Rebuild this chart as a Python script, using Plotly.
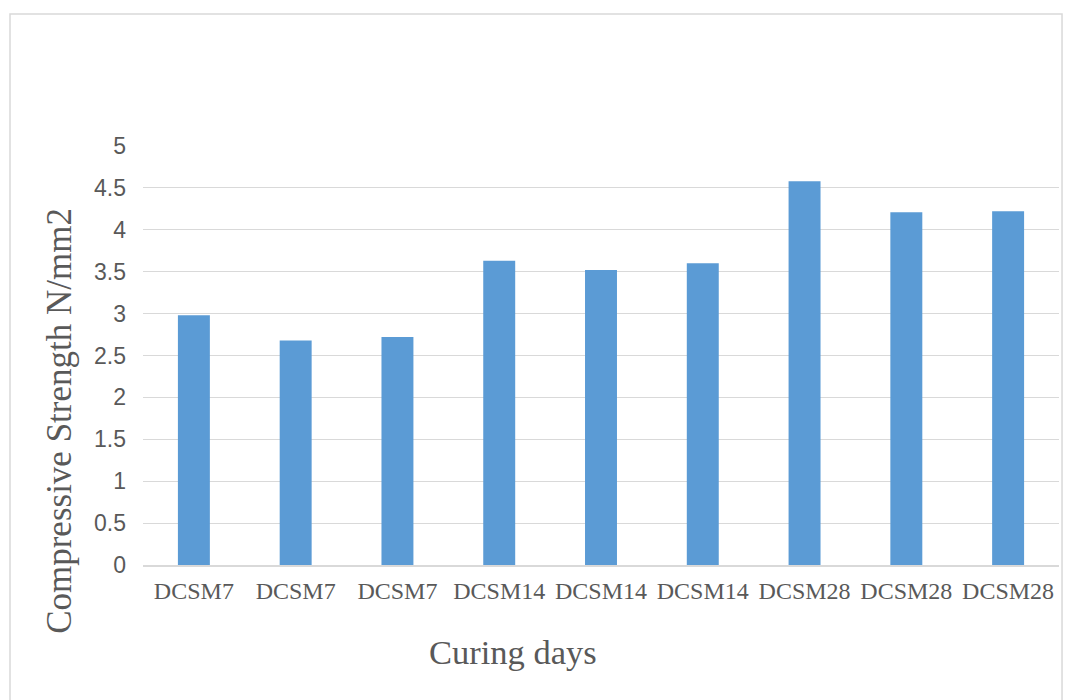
import plotly.graph_objects as go

# mix labels (repeated per specimen) and strengths
mixes = ["DCSM7", "DCSM7", "DCSM7",
         "DCSM14", "DCSM14", "DCSM14",
         "DCSM28", "DCSM28", "DCSM28"]
strength = [2.98, 2.68, 2.72, 3.63, 3.52, 3.60, 4.58, 4.21, 4.22]
y_ticks = [0, 0.5, 1, 1.5, 2, 2.5, 3, 3.5, 4, 4.5, 5]

positions = list(range(len(mixes)))
grey = "#595959"
line_grey = "#D9D9D9"

fig = go.Figure(
    go.Bar(
        x=positions,
        y=strength,
        marker=dict(color="#5B9BD5", line=dict(width=0)),
        width=0.314,
    )
)

# the page body adds an 8px offset, so margins are pulled in by 8px
fig.update_layout(
    width=1075,
    height=700,
    margin=dict(l=135, r=24, t=138, b=143),
    plot_bgcolor="white",
    paper_bgcolor="white",
    showlegend=False,
    xaxis=dict(
        tickmode="array",
        tickvals=positions,
        ticktext=mixes,
        range=[-0.5, len(mixes) - 0.5],
        showgrid=False,
        showline=True,
        linecolor=line_grey,
        linewidth=2,
        tickfont=dict(family="Liberation Serif", size=24, color=grey),
        ticks="",
        ticklabelstandoff=3,
    ),
    yaxis=dict(
        range=[0, 5],
        tickmode="array",
        tickvals=y_ticks,
        ticktext=[f"{v:g}" for v in y_ticks],
        showgrid=True,
        gridcolor=line_grey,
        gridwidth=1,
        zeroline=False,
        showline=False,
        tickfont=dict(family="Liberation Sans", size=23, color=grey),
        ticklabelstandoff=16,
    ),
    annotations=[
        dict(
            text="Compressive Strength N/mm2",
            xref="paper", yref="paper",
            x=-0.0906, y=0.344,
            xanchor="center", yanchor="middle",
            textangle=-90,
            showarrow=False,
            font=dict(family="Liberation Serif", size=35, color=grey),
        ),
        dict(
            text="Curing days",
            xref="paper", yref="paper",
            x=0.404, y=-0.208,
            xanchor="center", yanchor="middle",
            showarrow=False,
            font=dict(family="Liberation Serif", size=34.5, color=grey),
        ),
    ],
    shapes=[
        dict(
            type="rect",
            xref="paper", yref="paper",
            x0=-0.1452, x1=1.0033, y0=-0.36, y1=1.315,
            line=dict(color=line_grey, width=1.5),
            fillcolor="rgba(0,0,0,0)",
            layer="below",
        )
    ],
)

fig.write_html("out.html")
